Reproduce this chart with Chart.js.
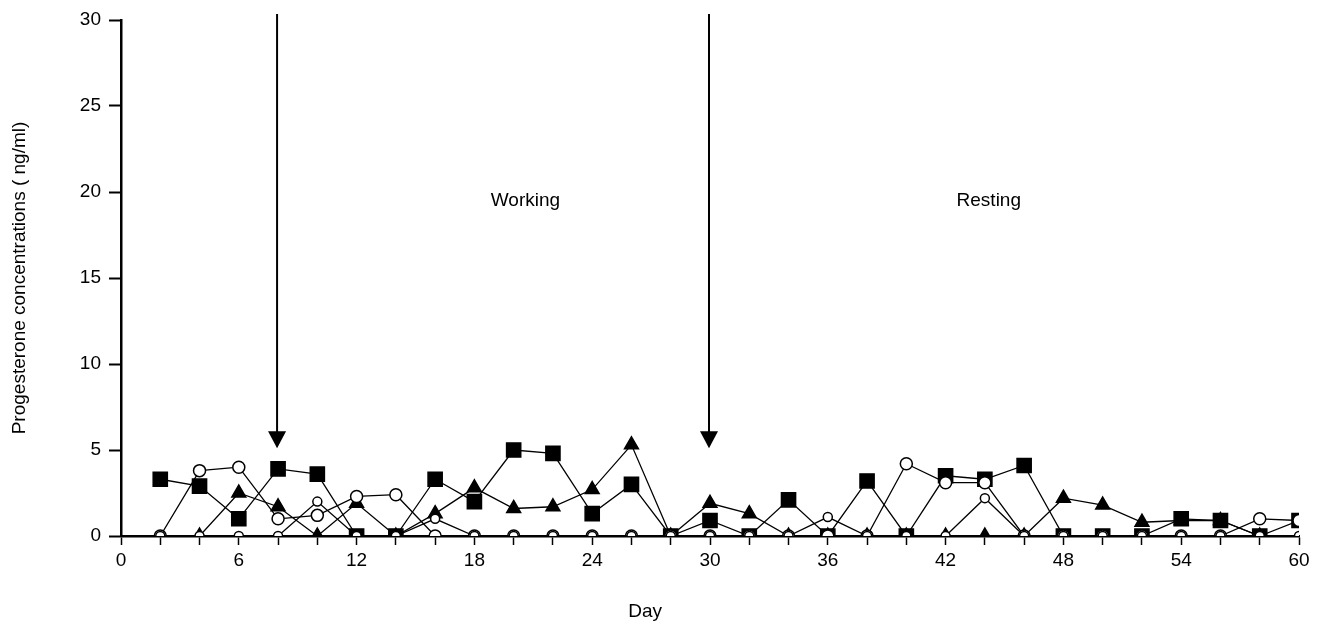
<!DOCTYPE html>
<html>
<head>
<meta charset="utf-8">
<script src="https://cdn.jsdelivr.net/npm/chart.js@4"></script>
<style>
  html, body { margin: 0; padding: 0; background: #fff; }
  #wrap { width: 1321px; height: 627px; }
</style>
</head>
<body>
<div id="wrap"><canvas id="progChart" width="1321" height="627"></canvas></div>
<script>
"use strict";

// data (day, ng/ml)
const days = [2, 4, 6, 8, 10, 12, 14, 16, 18, 20, 22, 24, 26, 28, 30,
              32, 34, 36, 38, 40, 42, 44, 46, 48, 50, 52, 54, 56, 58, 60];
const squareValues = [3.3, 2.9, 1.0, 3.9, 3.6, 0, 0, 3.3, 2.0, 5.0, 4.8, 1.3, 3.0, 0, 0.9,
                      0, 2.1, 0, 3.2, 0, 3.5, 3.3, 4.1, 0, 0, 0, 1.0, 0.9, 0, 0.9];
const triangleValues = [null, 0, 2.5, 1.7, 0, 1.9, 0, 1.3, 2.8, 1.6, 1.7, 2.7, 5.3, 0, 1.9,
                        1.3, 0, 0, 0, 0, 0, 0, 0, 2.2, 1.8, 0.8, 0.9, 0.9, 0, null];
const openCircleValues = [0, 3.8, 4.0, 1.0, 1.2, 2.3, 2.4, 0, 0, 0, 0, 0, 0, 0, 0,
                          0, 0, 0, 0, 4.2, 3.1, 3.1, 0, 0, 0, 0, 0, 0, 1.0, 0.9];
const smallCircleValues = [0, 0, 0, 0, 2.0, 0, 0, 1.0, 0, 0, 0, 0, 0, 0, 0,
                           0, 0, 1.1, 0, 0, 0, 2.2, 0, 0, 0, 0, 0, 0, 0, 0];

const xTicks = [0, 6, 12, 18, 24, 30, 36, 42, 48, 54, 60];
const yTicks = [0, 5, 10, 15, 20, 25, 30];

const arrowDays = [8, 30];
const phaseLabels = ["Working", "Resting"];
const phaseDays = [20.6, 44.2];

let toPoints = vals => days.map((d, i) => ({ x: d, y: vals[i] }));

// arrows, phase text and the "Day" caption (sits left of centre in the original)
const notesPlugin = {
  id: "notes",
  afterDatasetsDraw(chart) {
    let ctx = chart.ctx;
    let xs = chart.scales.x;
    let ys = chart.scales.y;
    ctx.save();
    ctx.strokeStyle = "#000";
    ctx.fillStyle = "#000";
    ctx.lineWidth = 2;
    for (let d of arrowDays) {
      let x = xs.getPixelForValue(d) - 1;
      let top = chart.chartArea.top - 6;
      let tip = ys.getPixelForValue(5.1);
      ctx.beginPath();
      ctx.moveTo(x, top);
      ctx.lineTo(x, tip - 12);
      ctx.stroke();
      ctx.beginPath();
      ctx.moveTo(x - 9, tip - 17);
      ctx.lineTo(x + 9, tip - 17);
      ctx.lineTo(x, tip);
      ctx.closePath();
      ctx.fill();
    }
    ctx.font = "19px 'Liberation Sans', Arial, sans-serif";
    ctx.textAlign = "center";
    ctx.textBaseline = "middle";
    phaseLabels.forEach((txt, i) => {
      ctx.fillText(txt, xs.getPixelForValue(phaseDays[i]), ys.getPixelForValue(19.5));
    });
    ctx.font = "19px 'Liberation Sans Narrow', 'Liberation Sans', Arial, sans-serif";
    ctx.fillText("Day", xs.getPixelForValue(26.7), chart.chartArea.bottom + 76);
    ctx.restore();
  }
};

let baseSet = {
  borderColor: "#000",
  borderWidth: 1.3,
  pointBorderColor: "#000",
  pointBorderWidth: 1.5,
  tension: 0,
  fill: false
};

let chart = new Chart(document.querySelector("#progChart"), {
  type: "line",
  data: {
    datasets: [
      Object.assign({}, baseSet, {
        label: "small circle",
        data: toPoints(smallCircleValues),
        pointStyle: "circle",
        pointRadius: 4.5,
        pointBackgroundColor: "#fff"
      }),
      Object.assign({}, baseSet, {
        label: "open circle",
        data: toPoints(openCircleValues),
        pointStyle: "circle",
        pointRadius: 6,
        pointBackgroundColor: "#fff"
      }),
      Object.assign({}, baseSet, {
        label: "triangle",
        data: toPoints(triangleValues),
        pointStyle: "triangle",
        pointRadius: 8,
        pointBackgroundColor: "#000"
      }),
      Object.assign({}, baseSet, {
        label: "square",
        data: toPoints(squareValues),
        pointStyle: "rect",
        pointRadius: 10,
        pointBackgroundColor: "#000"
      })
    ]
  },
  options: {
    responsive: false,
    animation: false,
    layout: { padding: { top: 20, right: 22, left: 0, bottom: 0 } },
    plugins: {
      legend: { display: false },
      tooltip: { enabled: false }
    },
    scales: {
      x: {
        type: "linear",
        min: 0,
        max: 60,
        afterBuildTicks: scale => {
          let t = [];
          for (let d = 0; d <= 60; d += 2) t.push({ value: d });
          scale.ticks = t;
        },
        afterFit: scale => { scale.height = 91; },
        grid: {
          drawOnChartArea: false,
          color: "#000",
          tickLength: 9,
          tickWidth: 1.5
        },
        border: { color: "#000", width: 2.5 },
        ticks: {
          autoSkip: false,
          maxRotation: 0,
          padding: 4,
          color: "#000",
          font: { family: "'Liberation Sans Narrow', 'Liberation Sans', Arial", size: 19 },
          callback: v => (xTicks.includes(v) ? String(v) : "")
        }
      },
      y: {
        min: 0,
        max: 30,
        afterBuildTicks: scale => {
          scale.ticks = yTicks.map(v => ({ value: v }));
        },
        afterFit: scale => { scale.width = 121; },
        grid: {
          drawOnChartArea: false,
          color: "#000",
          tickLength: 12,
          tickWidth: 2
        },
        border: { color: "#000", width: 2.5 },
        ticks: {
          padding: 8,
          color: "#000",
          font: { family: "'Liberation Sans', Arial", size: 19 }
        },
        title: {
          display: true,
          text: "Progesterone concentrations ( ng/ml)",
          color: "#000",
          padding: { top: 8, bottom: 0 },
          font: { family: "'Liberation Sans', Arial", size: 19 }
        }
      }
    }
  },
  plugins: [notesPlugin]
});
</script>
</body>
</html>
